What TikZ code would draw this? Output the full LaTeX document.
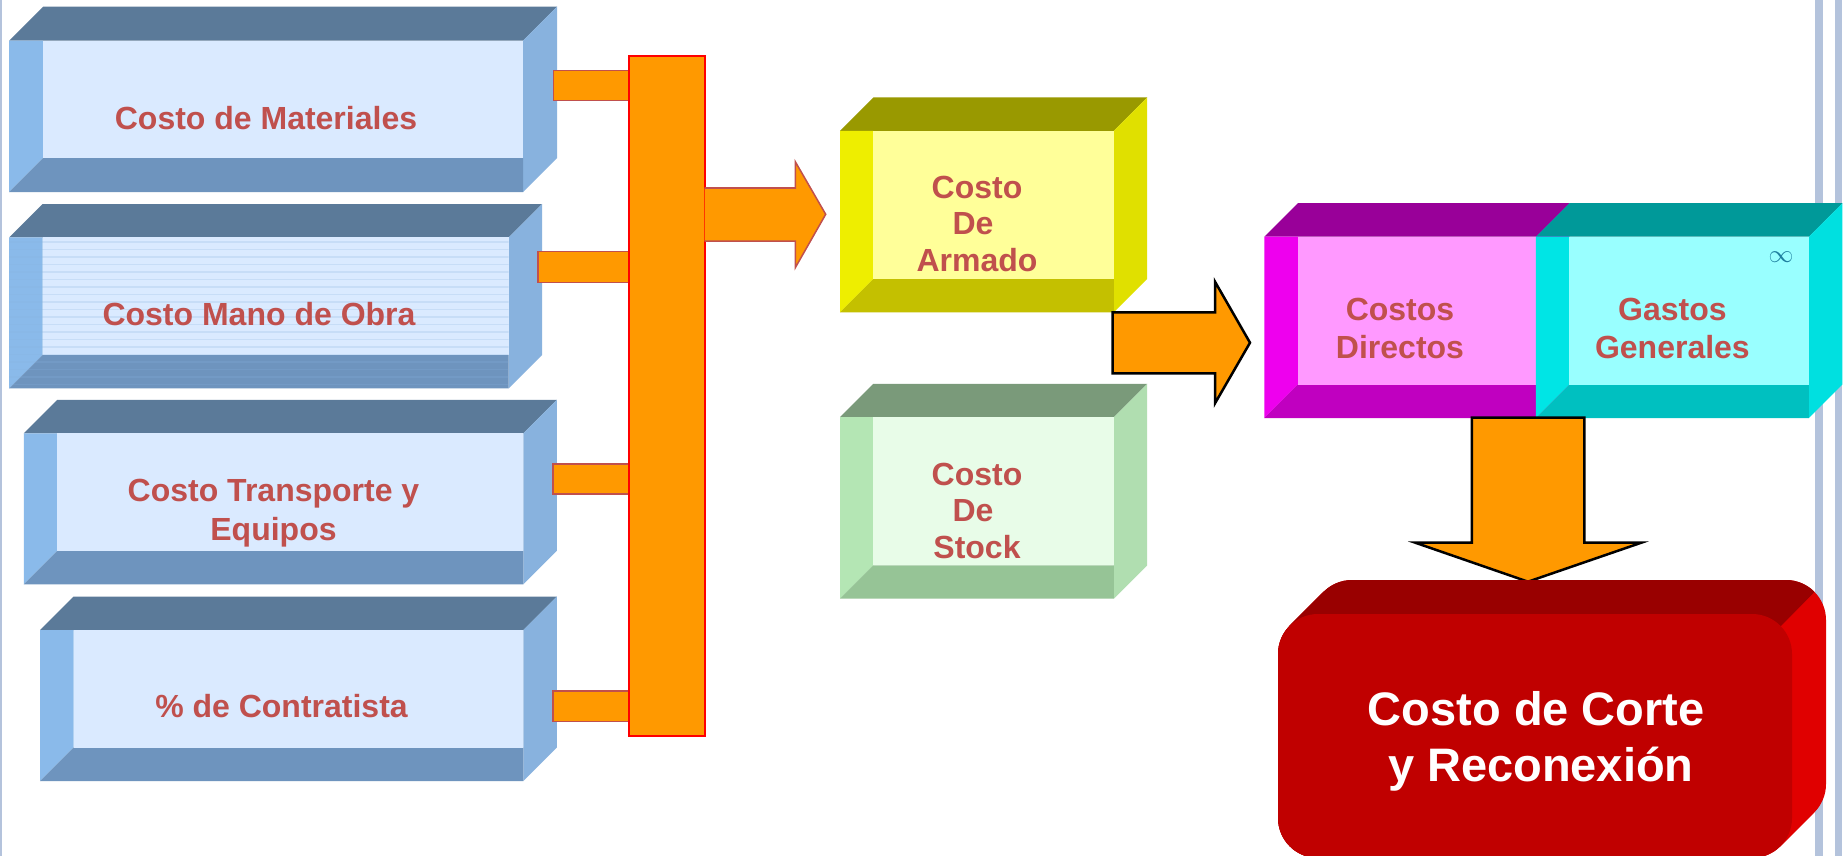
\documentclass[tikz,border=0pt]{standalone}
\usepackage{fontspec}
\setmainfont{Liberation Sans}
\usetikzlibrary{calc}

% face colours of the extruded boxes
\definecolor{bluetop}{HTML}{5B7A99}
\definecolor{blueside}{HTML}{88B2DE}
\definecolor{blueleft}{HTML}{8ABAEA}
\definecolor{bluebot}{HTML}{6E94BE}
\definecolor{blueface}{HTML}{DAEAFF}
\definecolor{yeltop}{HTML}{999900}
\definecolor{yelside}{HTML}{E0E000}
\definecolor{yelleft}{HTML}{EEEE00}
\definecolor{yelbot}{HTML}{C4C000}
\definecolor{yelface}{HTML}{FFFF99}
\definecolor{grntop}{HTML}{7A9A7A}
\definecolor{grnside}{HTML}{B0DEB0}
\definecolor{grnleft}{HTML}{B4E6B4}
\definecolor{grnbot}{HTML}{96C496}
\definecolor{grnface}{HTML}{E8FCE8}
\definecolor{magtop}{HTML}{990099}
\definecolor{magside}{HTML}{E000E0}
\definecolor{magleft}{HTML}{EE00EE}
\definecolor{magbot}{HTML}{C000C0}
\definecolor{magface}{HTML}{FF99FF}
\definecolor{cyntop}{HTML}{009999}
\definecolor{cynside}{HTML}{00E0E0}
\definecolor{cynleft}{HTML}{00E5E5}
\definecolor{cynbot}{HTML}{00C0C0}
\definecolor{cynface}{HTML}{99FFFF}
\definecolor{redfront}{HTML}{C00000}
\definecolor{redtop}{HTML}{990000}
\definecolor{redside}{HTML}{E00000}
\definecolor{txtred}{HTML}{C0504D}
\definecolor{flow}{HTML}{FF9900}
\definecolor{rail}{HTML}{B4C3DC}
\definecolor{infcol}{HTML}{1F7F9F}

% extruded box: front face (#1,#2)-(#3,#4), depth #5, colour set #6
\newcommand\cubebox[6]{%
  \fill[#6top]  (#1,#2) -- (#1+#5,#2-#5) -- (#3+#5,#2-#5) -- (#3,#2) -- cycle;
  \fill[#6side] (#3,#2) -- (#3+#5,#2-#5) -- (#3+#5,#4-#5) -- (#3,#4) -- cycle;
  \fill[#6left] (#1,#2) -- (#1+#5,#2) -- (#1+#5,#4-#5) -- (#1,#4) -- cycle;
  \fill[#6bot]  (#1,#4) -- (#1+#5,#4-#5) -- (#3,#4-#5) -- (#3,#4) -- cycle;
  \fill[#6face] (#1+#5,#2) rectangle (#3,#4-#5);
}

\tikzset{
  lbl/.style={anchor=base, inner sep=0pt, text=txtred,
    font=\bfseries\fontsize{32}{36.8}\selectfont},
  biglbl/.style={anchor=base, inner sep=0pt, text=white,
    font=\bfseries\fontsize{47}{56.5}\selectfont},
  stub/.style={fill=flow, draw=txtred, line width=1.5pt},
  busbar/.style={fill=flow, draw=red, line width=2pt},
  blockarrow/.style={fill=flow, draw=black, line width=2.5pt, line join=miter},
  stripe/.style={draw=blueside, line width=1.1pt, opacity=0.22},
}

\begin{document}
\begin{tikzpicture}[x=1pt, y=-1pt]
\useasboundingbox[fill=white] (0,0) rectangle (1848,856);

% page rails
\fill[rail] (0,0) rectangle (2,856);
\fill[rail] (1815,0) rectangle (1822.7,856);
\fill[rail] (1835,0) rectangle (1842.3,856);

% cost components
\cubebox{9.2}{40.7}{523}{192}{34}{blue}
\cubebox{9.2}{237.3}{508.7}{388.3}{33.3}{blue}
\begin{scope}
  \clip (9.2,237.3) rectangle (508.7,388.3);
  \foreach \yy in {242,249.5,...,388} \draw[stripe] (9.2,\yy) -- (508.7,\yy);
\end{scope}
\cubebox{23.9}{433.3}{523.4}{584.3}{33.5}{blue}
\cubebox{40}{630}{523.4}{781}{33.5}{blue}

\node[lbl] (mat) at (266,130) {Costo de Materiales};
\node[lbl] (obra) at (259,325) {Costo Mano de Obra};
\node[lbl] (trA) at (273.5,501.7) {Costo Transporte y};
\node[lbl] (trB) at (273.5,540) {Equipos};
\node[lbl] (contr) at (281.5,717.3) {\% de Contratista};

% collecting bus
\draw[stub] (553.5,70.7) rectangle (629,100.7);
\draw[stub] (538,251.7) rectangle (629,282.3);
\draw[stub] (553,464) rectangle (629,494);
\draw[stub] (553,691) rectangle (629,721.7);
\node[busbar, minimum width=75.7pt, minimum height=680.3pt, inner sep=0pt]
  (bus) at (666.85,395.85) {};

% arrow from the bus to the assembly cost
\fill[flow] (704.7,188) -- (795.3,188) -- (795.3,161.7) -- (825.7,214.3)
  -- (795.3,267.7) -- (795.3,241) -- (704.7,241) -- cycle;
\draw[txtred, line width=1.5pt, line join=miter] (704.7,188) -- (795.3,188)
  -- (795.3,161.7) -- (825.7,214.3) -- (795.3,267.7) -- (795.3,241) -- (704.7,241);

% assembly and stock
\cubebox{840}{130.8}{1113.8}{312.3}{33.3}{yel}
\cubebox{840}{417.2}{1113.8}{598.7}{33.3}{grn}
\node[lbl] (armA) at (977,198.6) {Costo};
\node[lbl] (armB) at (973,234.6) {De};
\node[lbl] (armC) at (977,271.9) {Armado};
\node[lbl] (stkA) at (977,485) {Costo};
\node[lbl] (stkB) at (973,521) {De};
\node[lbl] (stkC) at (977,558.3) {Stock};

\draw[blockarrow] (1112.7,312.3) -- (1215,312.3) -- (1215,281.7) -- (1250,342.7)
  -- (1215,403.3) -- (1215,373.3) -- (1112.7,373.3) -- cycle;

% direct costs and overheads
\cubebox{1264.4}{236.7}{1535.9}{418}{33.5}{mag}
\cubebox{1535.9}{236.7}{1808.8}{418}{33.5}{cyn}
\node[lbl] (dirA) at (1400,320) {Costos};
\node[lbl] (dirB) at (1400,358.3) {Directos};
\node[lbl] (genA) at (1672.4,320) {Gastos};
\node[lbl] (genB) at (1672.4,358.3) {Generales};
\node[text=infcol, inner sep=0pt, font=\fontsize{34}{34}\selectfont] (inf)
  at (1781,257) {$\infty$};

\draw[blockarrow] (1471.9,417.7) -- (1584.3,417.7) -- (1584.3,542.7) -- (1641.3,542.7)
  -- (1528,581.7) -- (1415.3,542.7) -- (1471.9,542.7) -- cycle;

% final cost block: swept rounded box
\foreach \k in {0,1,...,34}
  \fill[redside, rounded corners=40pt] ({1278+\k},{614-\k}) rectangle ({1792+\k},{858-\k});
\begin{scope}
  \clip (1200,500) -- (1906,500) -- (1200,1206) -- cycle;
  \foreach \k in {0,1,...,34}
    \fill[redtop, rounded corners=40pt] ({1278+\k},{614-\k}) rectangle ({1792+\k},{858-\k});
\end{scope}
\fill[redfront, rounded corners=40pt] (1278,614) rectangle (1792,858);
\node[biglbl] (fA) at (1536.3,725) {Costo de Corte};
\node[biglbl] (fB) at (1540.8,781.7) {y Reconexión};
\end{tikzpicture}
\end{document}
